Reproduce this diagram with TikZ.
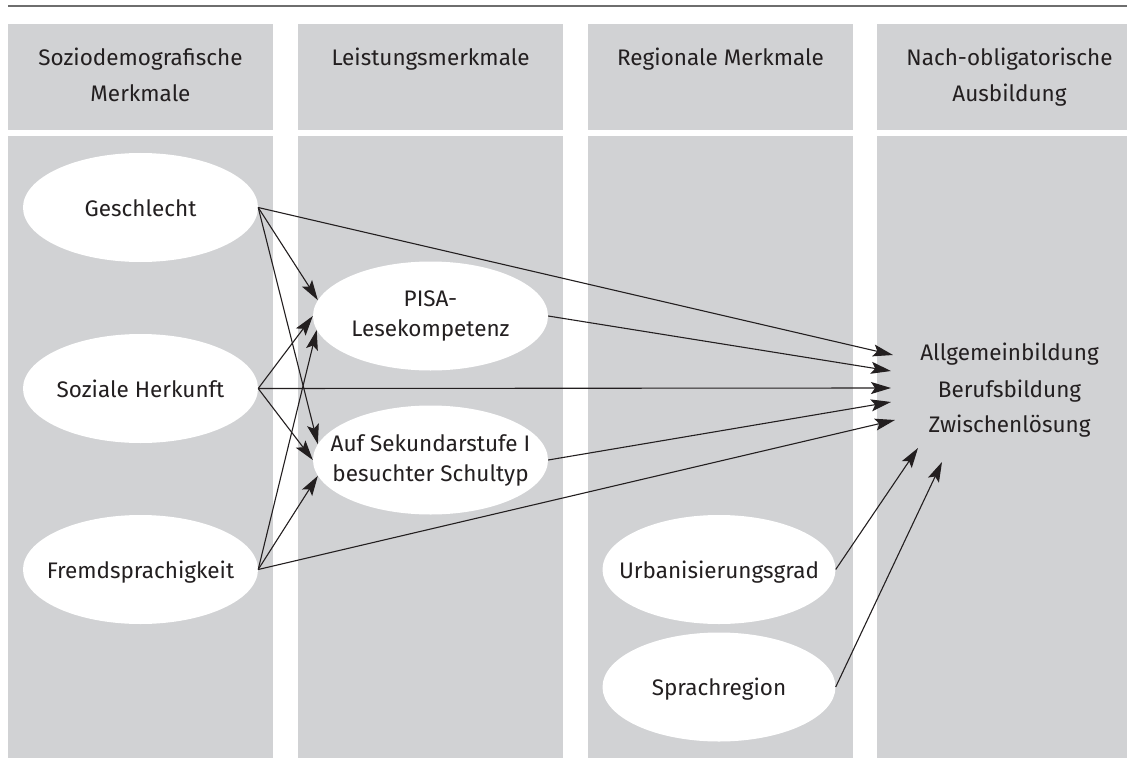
\documentclass[tikz,border=0pt]{standalone}
\usepackage{fontspec}
\setmainfont{Fira Sans}
\usetikzlibrary{arrows.meta,shapes.geometric}
\definecolor{colgrey}{HTML}{D1D2D4}
\definecolor{ink}{HTML}{231F20}
\definecolor{rulegrey}{HTML}{6E6E6E}
\newcommand{\zb}[1]{\makebox[0pt][c]{#1}}
\begin{document}
\begin{tikzpicture}[x=1pt,y=-1pt,
  colbox/.style={fill=colgrey,draw=none},
  oval/.style={ellipse,fill=white,draw=none,minimum width=235pt,minimum height=109pt,inner sep=0pt,
    text=ink,align=center,font=\fontsize{22.5}{30}\selectfont},
  oneline/.style={text height=18pt,text depth=1pt},
  head/.style={text=ink,align=center,anchor=base,inner sep=0pt,font=\fontsize{22.5}{36}\selectfont},
  arr/.style={draw=ink,line width=1.1pt,-{Stealth[length=20pt,width=12pt,inset=4pt]}}]
\useasboundingbox (0,0) rectangle (1127,765);
% top rule
\draw[rulegrey,line width=1.8pt] (8,6) -- (1127,6);
% columns
\fill[colbox] (8,24) rectangle (273,130);
\fill[colbox] (298,24) rectangle (563,130);
\fill[colbox] (588,24) rectangle (853,130);
\fill[colbox] (877,24) rectangle (1127,130);
\fill[colbox] (8,136) rectangle (273,758);
\fill[colbox] (298,136) rectangle (563,758);
\fill[colbox] (588,136) rectangle (853,758);
\fill[colbox] (877,136) rectangle (1127,758);
% headers (base anchor = last line baseline)
\node[head] (h1) at (140.5,101.7) {Soziodemografische\\Merkmale};
\node[head] (h2) at (430.5,66) {Leistungsmerkmale};
\node[head] (h3) at (720.5,66) {Regionale Merkmale};
\node[head] (h4) at (1009.5,101.7) {Nach-obligatorische\\Ausbildung};
% ellipses
\node[oval,oneline] (gesch) at (140.5,207.5) {\zb{Geschlecht}};
\node[oval,oneline] (soz) at (140.5,388.5) {\zb{Soziale Herkunft}};
\node[oval,oneline] (fremd) at (140.5,569.5) {\zb{Fremdsprachigkeit}};
\node[oval] (pisa) at (430.5,316) {\zb{PISA-}\\\zb{Lesekompetenz}};
\node[oval] (sek) at (430.5,460) {\zb{Auf Sekundarstufe I}\\\zb{besuchter Schultyp}};
\node[oval,oneline,minimum width=233pt] (urban) at (719,569.5) {\zb{Urbanisierungsgrad}};
\node[oval,oneline,minimum width=233pt] (sprach) at (719,687) {\zb{Sprachregion}};
% outcome
\node[head] (out) at (1009.5,432) {Allgemeinbildung\\[0.5pt]Berufsbildung\\[-1pt]Zwischenlösung};
% arrow end points
\coordinate (t1) at (893,355);
\coordinate (t2) at (891,371);
\coordinate (t3) at (891,388);
\coordinate (t4) at (891,402);
\coordinate (t5) at (895,420);
\coordinate (t6) at (918,448);
\coordinate (t7) at (942,462);
% connectors
\draw[arr] (gesch.east) -- (pisa.172);
\draw[arr] (gesch.east) -- (sek.172);
\draw[arr] (gesch.east) -- (t1);
\draw[arr] (soz.east) -- (pisa.west);
\draw[arr] (soz.east) -- (sek.west);
\draw[arr] (soz.east) -- (t3);
\draw[arr] (fremd.east) -- (pisa.187);
\draw[arr] (fremd.east) -- (sek.188);
\draw[arr] (fremd.east) -- (t5);
\draw[arr] (pisa.east) -- (t2);
\draw[arr] (sek.east) -- (t4);
\draw[arr] (urban.east) -- (t6);
\draw[arr] (sprach.east) -- (t7);
\end{tikzpicture}
\end{document}
